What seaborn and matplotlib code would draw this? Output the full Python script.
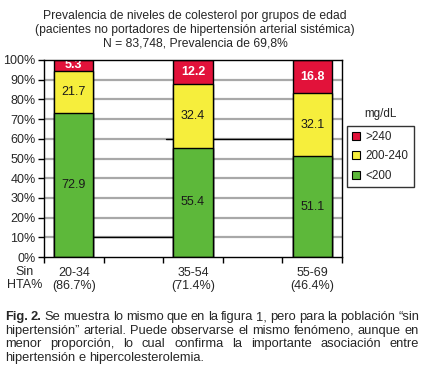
import matplotlib
matplotlib.use("Agg")
import matplotlib.pyplot as plt
import seaborn as sns
import pandas as pd
import numpy as np
from matplotlib.patches import Patch

# ---- data ----
groups = ["20-34", "35-54", "55-69"]
sin_hta = ["(86.7%)", "(71.4%)", "(46.4%)"]
lt200 = [72.9, 55.4, 51.1]
mid = [21.7, 32.4, 32.1]
gt240 = [5.3, 12.2, 16.8]
yticks = [0, 10, 20, 30, 40, 50, 60, 70, 80, 90, 100]
legend_labels = [">240", "200-240", "<200"]

title_lines = ["Prevalencia de niveles de colesterol por grupos de edad",
               "(pacientes no portadores de hipertensión arterial sistémica)",
               "N = 83,748, Prevalencia de 69,8%"]
caption_lines = [
    "Fig. 2. Se muestra lo mismo que en la figura 1, pero para la población “sin",
    "hipertensión” arterial. Puede observarse el mismo fenómeno, aunque en",
    "menor proporción, lo cual confirma la importante asociación entre",
    "hipertensión e hipercolesterolemia.",
]

RED = "#E2123A"
YEL = "#F6EE3C"
GRN = "#5DB83A"

sns.set_style("white")
plt.rcParams["font.family"] = ["Liberation Sans", "DejaVu Sans"]
FS = 9.0
FT = 8.7
FL = 8.4
FC = 9.3

W, H = 424, 368
fig = plt.figure(figsize=(W / 100, H / 100), dpi=100)
ax = fig.add_axes([44 / W, 1 - 257 / H, (342 - 44) / W, (257 - 60) / H])

df = pd.DataFrame({"grp": groups, "g": lt200, "m": mid, "r": gt240})
df["c2"] = df["g"] + df["m"]
df["c3"] = df["c2"] + df["r"]

bw = 0.33
for col, color in [("c3", RED), ("c2", YEL), ("g", GRN)]:
    sns.barplot(data=df, x="grp", y=col, color=color, width=bw, ax=ax,
                edgecolor="black", linewidth=1.0, saturation=1, zorder=3,
                errorbar=None)

ax.set_xlim(-0.25, 2.25)
ax.set_ylim(0, 100)

# grid
for v in yticks[1:-1]:
    ax.axhline(v, color="#a8a8a8", lw=1.6, zorder=1)
ax.plot([0.15, 0.85], [10, 10], color="black", lw=1.0, zorder=2)
ax.plot([0.77, 1.85], [60, 60], color="black", lw=1.0, zorder=2)

# value labels
for i in range(3):
    ax.text(i, lt200[i] / 2, f"{lt200[i]:.1f}", ha="center", va="center",
            fontsize=FS, color="#1a1a1a", zorder=5)
    ax.text(i, lt200[i] + mid[i] / 2, f"{mid[i]:.1f}", ha="center", va="center",
            fontsize=FS, color="#1a1a1a", zorder=5)
    ax.text(i, lt200[i] + mid[i] + gt240[i] / 2, f"{gt240[i]:.1f}", ha="center",
            va="center", fontsize=FS, color="white", fontweight="bold", zorder=5)

ax.set_yticks(yticks)
ax.set_yticklabels([f"{v}%" for v in yticks], fontsize=FS)
ax.set_xticks([-0.25, 0.25, 0.75, 1.25, 1.75, 2.25])
ax.set_xticklabels([])
ax.tick_params(axis="both", direction="out", length=4, width=1, color="black",
               bottom=True, left=True, pad=2)
ax.set_xlabel("")
ax.set_ylabel("")
for s in ax.spines.values():
    s.set_color("black")
    s.set_linewidth(1.0)
    s.set_zorder(6)

# category labels
for i in range(3):
    ax.text(i, -5.0, groups[i] + "\n" + sin_hta[i], ha="center", va="top",
            fontsize=FS, linespacing=1.15, transform=ax.transData)
fig.text(25 / W, 1 - 266 / H, "Sin\nHTA%", ha="center", va="top",
         fontsize=FS, linespacing=1.15)

# legend
handles = [Patch(facecolor=c, edgecolor="black", lw=0.8) for c in [RED, YEL, GRN]]
leg = fig.legend(handles, legend_labels, loc="upper left",
                 bbox_to_anchor=(347 / W, 1 - 126 / H), fontsize=FL,
                 frameon=True, fancybox=False, edgecolor="black",
                 handlelength=0.7, handleheight=0.7, handletextpad=0.45,
                 borderpad=0.45, labelspacing=0.62, borderaxespad=0)
leg.get_frame().set_linewidth(1.0)
fig.text(380 / W, 1 - 114 / H, "mg/dL", ha="center", va="center", fontsize=FL)

# title
for k, line in enumerate(title_lines):
    fig.text(195 / W, 1 - (16 + 14 * k) / H, line, ha="center", va="center",
             fontsize=FT)

# caption, justified
fig.canvas.draw()
renderer = fig.canvas.get_renderer()
x0, x1 = 5, 419
sp = fig.text(0, 0, "a a", fontsize=FC)
sp2 = fig.text(0, 0, "aa", fontsize=FC)
space_w = sp.get_window_extent(renderer).width - sp2.get_window_extent(renderer).width
sp.remove(); sp2.remove()

for k, line in enumerate(caption_lines):
    y = 1 - (320 + 13.7 * k) / H
    words = line.split(" ")
    arts = []
    for j, w in enumerate(words):
        bold = (k == 0 and j < 2)
        t = fig.text(0, y, w, ha="left", va="baseline", fontsize=FC,
                     fontweight="bold" if bold else "normal")
        arts.append(t)
    widths = [a.get_window_extent(renderer).width for a in arts]
    if k < len(caption_lines) - 1:
        gap = max((x1 - x0 - sum(widths)) / (len(words) - 1), 1.0)
    else:
        gap = space_w
    xx = x0
    for a, wd in zip(arts, widths):
        a.set_x(xx / W)
        xx += wd + gap

fig.savefig("out.png", dpi=100)
